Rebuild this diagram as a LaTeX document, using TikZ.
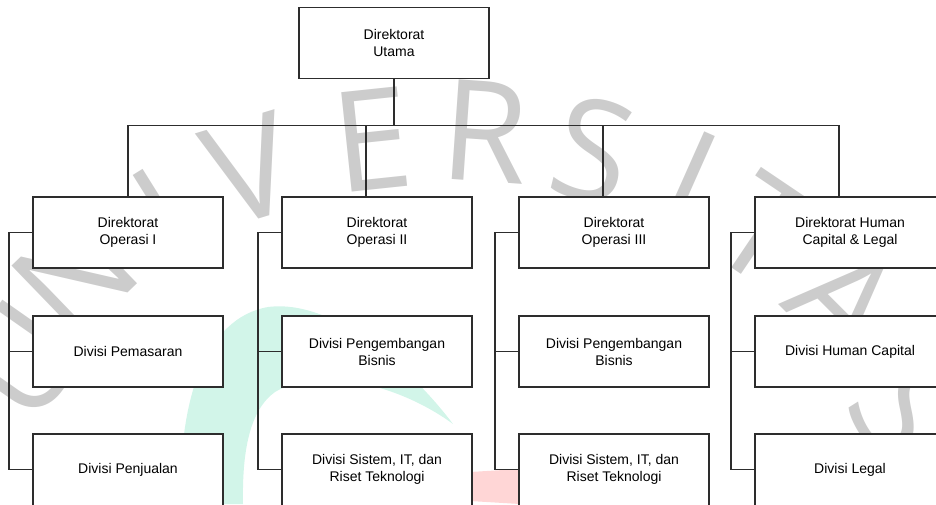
\documentclass[tikz,border=0pt]{standalone}
\usepackage{fontspec}
\setmainfont{Liberation Sans}
\newfontfamily\wmfont{Open Sans}
\usetikzlibrary{positioning}
\definecolor{wmgray}{RGB}{204,204,204}
\definecolor{mint}{RGB}{210,245,233}
\definecolor{blush}{RGB}{255,214,214}
\definecolor{ink}{RGB}{45,45,45}

\begin{document}
\begin{tikzpicture}[x=1pt,y=-1pt,node distance=48pt and 59pt]
	  \tikzstyle{box}=[draw=ink,fill=white,line width=1.1pt,outer sep=0pt,minimum width=190pt,minimum height=71pt,inner sep=0pt,align=center,font=\fontsize{14}{17}\selectfont]
	  \tikzstyle{openbox}=[box,draw=none]
	  \tikzstyle{link}=[draw=ink,line width=1.1pt]
	  \tikzstyle{wm}=[text=wmgray,inner sep=0pt,font=\wmfont\fontsize{140}{140}\selectfont]

	  \useasboundingbox (0,0) rectangle (936,504);

	  \fill[mint] (181,504) .. controls (178,400) and (205,318) .. (268,307) .. controls (340,298) and (420,380) .. (453,424) .. controls (400,385) and (320,365) .. (275,392) .. controls (250,410) and (242,450) .. (243,504) -- cycle;
	  \fill[blush] (470,472) -- (520,469) -- (520,504) -- (470,501) -- cycle;
	  \foreach \l/\x/\y/\r in {U/22/360/55, N/75/275/44, I/165/215/32, V/250/170/17, E/372/140/6, R/485/132/-4, S/593/150/-14, I/690/180/-24, T/765/230/-34, A/845/300/-45, S/905/410/-58}
	    \node[wm,rotate=\r] at (\x,\y) {\l};

	  \node[box] (U) at (394,43) {Direktorat\\Utama};
	  \node[box] (D1) at (128,232.5) {Direktorat\\Operasi I};
	  \node[box] (D2) [right=59pt of D1] {Direktorat\\Operasi II};
	  \node[box] (D3) [right=47pt of D2] {Direktorat\\Operasi III};
	  \node[box] (D4) [right=46pt of D3] {Direktorat Human\\Capital \& Legal};

	  \node[box] (A1) [below=of D1] {Divisi Pemasaran};
	  \node[box] (A2) [below=of D2] {Divisi Pengembangan\\Bisnis};
	  \node[box] (A3) [below=of D3] {Divisi Pengembangan\\Bisnis};
	  \node[box] (A4) [below=of D4] {Divisi Human Capital};

	  \node[openbox] (B1) [below=47pt of A1] {Divisi Penjualan};
	  \node[openbox] (B2) [below=47pt of A2] {Divisi Sistem, IT, dan\\Riset Teknologi};
	  \node[openbox] (B3) [below=47pt of A3] {Divisi Sistem, IT, dan\\Riset Teknologi};
	  \node[openbox] (B4) [below=47pt of A4] {Divisi Legal};
	  \foreach \n in {1,...,4}
	    \draw[link] ([yshift=-10pt]B\n.south west) |- (B\n.north east) -- ([yshift=-10pt]B\n.south east);

	  \coordinate (bus) at ([yshift=-47pt]U.south);
	  \draw[link] (U.south) -- (bus);
	  \draw[link] (D1.north) |- (bus) -| ([xshift=-11pt]D4.north);
	  \foreach \n in {2,3}
	    \draw[link] ([xshift=-11pt]D\n.north) |- (bus);
	  \foreach \n in {1,...,4} {
	    \draw[link] (D\n.west) -- ++(-24pt,0) coordinate (T\n) |- (A\n.west);
	    \draw[link] (T\n) |- (B\n.west);
	  }
\end{tikzpicture}
\end{document}
